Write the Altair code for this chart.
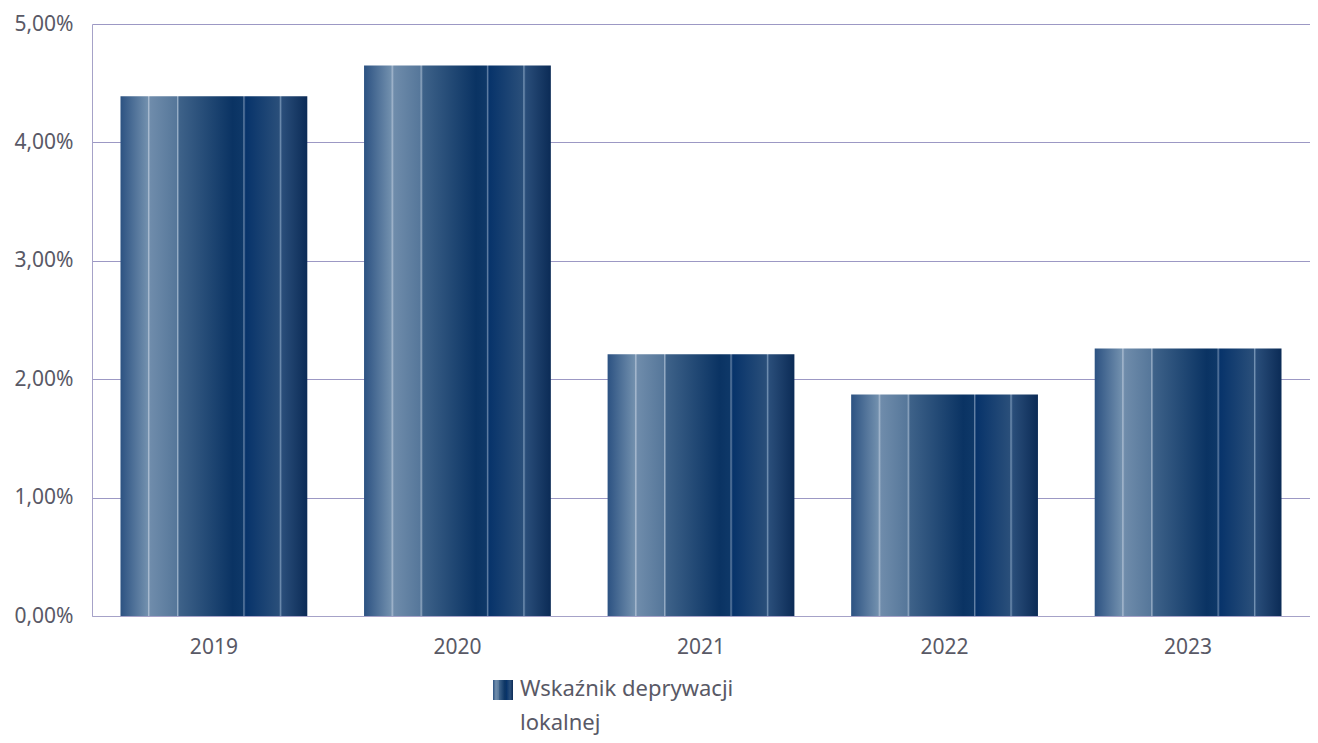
import altair as alt
import pandas as pd

years = ["2019", "2020", "2021", "2022", "2023"]
values = [0.0439, 0.0465, 0.0221, 0.0187, 0.0226]
legend_lines = ["Wskaźnik deprywacji", "lokalnej"]

df = pd.DataFrame({"year": years, "value": values})

FONT = "Noto Sans"
TXT = "#595966"

grad = alt.Gradient(
    gradient="linear", x1=0, y1=0, x2=1, y2=0,
    stops=[
        alt.GradientStop(offset=0.0, color="#2c5282"),
        alt.GradientStop(offset=0.145, color="#7290ae"),
        alt.GradientStop(offset=0.15, color="#a9bbd0"),
        alt.GradientStop(offset=0.16, color="#6f8cab"),
        alt.GradientStop(offset=0.30, color="#56779a"),
        alt.GradientStop(offset=0.305, color="#98aec6"),
        alt.GradientStop(offset=0.315, color="#3e6289"),
        alt.GradientStop(offset=0.60, color="#0a3363"),
        alt.GradientStop(offset=0.655, color="#0e3868"),
        alt.GradientStop(offset=0.66, color="#6582a6"),
        alt.GradientStop(offset=0.67, color="#07336a"),
        alt.GradientStop(offset=0.85, color="#2a4f7a"),
        alt.GradientStop(offset=0.855, color="#7593b4"),
        alt.GradientStop(offset=0.865, color="#2a4e7a"),
        alt.GradientStop(offset=1.0, color="#0b2b56"),
    ],
)

bars = alt.Chart(df).mark_bar(color=grad).encode(
    x=alt.X("year:N", sort=years,
            scale=alt.Scale(paddingInner=0.233, paddingOuter=0.117),
            axis=alt.Axis(title=None, labelAngle=0, ticks=False, labelPadding=20,
                          labelFontSize=21, labelColor=TXT, labelFont=FONT, grid=False,
                          domainColor="#a6a2c8", domainWidth=1)),
    y=alt.Y("value:Q", scale=alt.Scale(domain=[0, 0.05], nice=False),
            axis=alt.Axis(title=None, values=[0, 0.01, 0.02, 0.03, 0.04, 0.05],
                          labelExpr="replace(format(datum.value, '.2%'), '.', ',')",
                          ticks=False, labelPadding=19, labelFontSize=21,
                          labelColor=TXT, labelFont=FONT, grid=True,
                          gridColor="#9c98c4", gridWidth=1,
                          domainColor="#a6a2c8", domainWidth=1)),
)

leg_sym = alt.Chart(pd.DataFrame({"k": [legend_lines[0]]})).mark_rect(color=grad).encode(
    x=alt.value(401), x2=alt.value(421), y=alt.value(656), y2=alt.value(676)
)

leg_df = pd.DataFrame({"t": legend_lines, "i": [0, 1]})
leg_text = alt.Chart(leg_df).mark_text(
    align="left", baseline="middle", font=FONT, fontSize=22, color=TXT
).encode(
    text="t:N",
    x=alt.value(428),
    y=alt.Y("i:Q", scale=alt.Scale(domain=[0, 1], range=[665, 699], nice=False, zero=False), axis=None),
)

chart = alt.layer(bars, leg_sym, leg_text).resolve_scale(y="independent").properties(
    width=1218, height=592,
    padding={"left": 84, "top": 16, "right": 0, "bottom": 119},
    autosize=alt.AutoSizeParams(type="none"),
).configure_view(stroke=None, clip=False)

chart.save("out.html", embed_options={"renderer": "svg", "actions": False})
